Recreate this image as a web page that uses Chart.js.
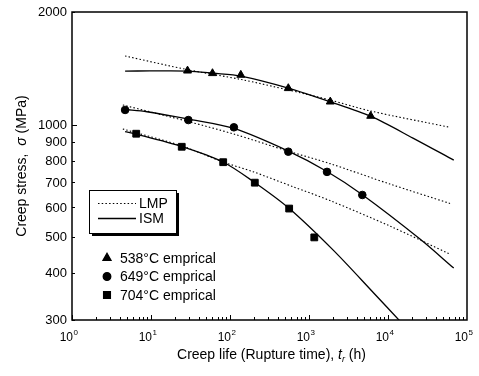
<!DOCTYPE html>
<html><head><meta charset="utf-8">
<script src="https://cdn.jsdelivr.net/npm/chart.js@4.4.1/dist/chart.umd.min.js"></script>
<style>html,body{margin:0;padding:0;background:#fff;}canvas{display:block;}</style>
</head><body>
<canvas id="c" width="479" height="376"></canvas>
<script>
// Empirical data (rupture time h, stress MPa)
const t538 = [29, 60, 137, 547, 1860, 6040];
const s538 = [1393, 1371, 1357, 1250, 1151, 1054];
const t649 = [4.7, 29.7, 112, 547, 1690, 4730];
const s649 = [1094, 1028, 983, 846, 747, 648];
const t704 = [6.5, 24.5, 82, 206, 561, 1167];
const s704 = [945, 872, 793, 699, 596, 499];
// ISM curves
const ism538T = [4.7, 9.7, 29, 61, 138, 547, 1830, 6100, 20700, 68000];
const ism538S = [1390, 1391, 1390, 1372, 1348, 1252, 1152, 1051, 920, 803];
const ism649T = [4.7, 8.9, 29, 112, 547, 1690, 4690, 25400, 68000];
const ism649S = [1097, 1082, 1035, 976, 849, 749, 650, 494, 413];
const ism704T = [4.7, 6.5, 24.7, 81.5, 201, 558, 2012, 6457, 15040, 29400];
const ism704S = [957, 943, 873, 794, 702, 597, 462, 356, 294, 252];
// LMP curves
const lmp538T = [4.7, 30, 140, 550, 1850, 6000, 61000];
const lmp538S = [1525, 1400, 1319, 1237, 1163, 1087, 983];
const lmp649T = [4.4, 31, 112, 542, 1845, 10600, 61000];
const lmp649S = [1128, 1016, 943, 849, 786, 693, 615];
const lmp704T = [4.4, 24.7, 81.5, 195, 627, 1845, 10600, 61000];
const lmp704S = [973, 876, 794, 748, 682, 626, 535, 450];
// Tick labels
const xTickVals = [1, 10, 100, 1000, 10000, 100000];
const xTickExps = ['0', '1', '2', '3', '4', '5'];
const yTickVals = [300, 400, 500, 600, 700, 800, 900, 1000, 2000];
const yTickLabels = ['300', '400', '500', '600', '700', '800', '900', '1000', '2000'];
const seriesNames = ['538°C emprical', '649°C emprical', '704°C emprical'];
const lineNames = ['LMP', 'ISM'];

const pts = (T, S) => T.map((t, i) => ({x: t, y: S[i]}));
const FONT = '"Liberation Sans", Arial, sans-serif';

function curve(T, S, dotted) {
  return {data: pts(T, S), borderColor: '#000', borderWidth: dotted ? 1.1 : 1.3,
    borderDash: dotted ? [1.5, 2.2] : [], pointRadius: 0, showLine: true, fill: false,
    tension: 0.3};
}
function marks(T, S, style, r) {
  return {data: pts(T, S), showLine: false, pointStyle: style, pointRadius: r,
    backgroundColor: '#000', borderColor: '#000', borderWidth: 1};
}

const deco = {
  id: 'deco',
  afterDraw(chart) {
    const ctx = chart.ctx, a = chart.chartArea, xs = chart.scales.x, ys = chart.scales.y;
    ctx.save();
    ctx.strokeStyle = '#000'; ctx.fillStyle = '#000';
    // frame
    ctx.lineWidth = 1.5;
    ctx.strokeRect(a.left, a.top, a.right - a.left, a.bottom - a.top);
    // x ticks (inward)
    ctx.lineWidth = 1;
    for (let e = 0; e < 5; e++) {
      for (let m = 1; m <= 9; m++) {
        const v = m * Math.pow(10, e);
        const px = Math.round(xs.getPixelForValue(v)) + 0.5;
        const len = m === 1 ? 5 : 3;
        ctx.beginPath(); ctx.moveTo(px, a.bottom); ctx.lineTo(px, a.bottom - len); ctx.stroke();
      }
    }
    // y ticks (inward)
    yTickVals.forEach(v => {
      const py = Math.round(ys.getPixelForValue(v)) + 0.5;
      const len = (v === 1000) ? 5 : 3;
      ctx.beginPath(); ctx.moveTo(a.left, py); ctx.lineTo(a.left + len, py); ctx.stroke();
    });
    // y tick labels
    ctx.font = '13px ' + FONT; ctx.textAlign = 'right'; ctx.textBaseline = 'middle';
    yTickVals.forEach((v, i) => {
      ctx.fillText(yTickLabels[i], a.left - 5, ys.getPixelForValue(v) + 0.5);
    });
    // x tick labels with superscripts
    xTickVals.forEach((v, i) => {
      const px = xs.getPixelForValue(v);
      ctx.font = '12px ' + FONT; ctx.textAlign = 'right'; ctx.textBaseline = 'alphabetic';
      ctx.fillText('10', px + 1, a.bottom + 21);
      ctx.font = '8px ' + FONT; ctx.textAlign = 'left';
      ctx.fillText(xTickExps[i], px + 1.5, a.bottom + 15);
    });
    // x title
    const parts = [['Creep life (', 'normal'], ['Rupture', 'normal'], [' time), ', 'normal'], ['t', 'italic']];
    const after = ' (h)';
    let tw = 0;
    parts.forEach(p => { ctx.font = p[1] + ' 14px ' + FONT; tw += ctx.measureText(p[0]).width; });
    ctx.font = '9px ' + FONT; const rw = ctx.measureText('r').width;
    ctx.font = '14px ' + FONT; tw += rw + ctx.measureText(after).width;
    let x0 = (a.left + a.right) / 2 - tw / 2 + 2; const yb = 359;
    ctx.textAlign = 'left'; ctx.textBaseline = 'alphabetic';
    parts.forEach(p => { ctx.font = p[1] + ' 14px ' + FONT; ctx.fillText(p[0], x0, yb); x0 += ctx.measureText(p[0]).width; });
    ctx.font = 'italic 9px ' + FONT; ctx.fillText('r', x0, yb + 3); x0 += rw;
    ctx.font = '14px ' + FONT; ctx.fillText(after, x0, yb);
    // y title
    ctx.save();
    ctx.translate(26, (a.top + a.bottom) / 2);
    ctx.rotate(-Math.PI / 2);
    const yparts = [['Creep stress,  ', 'normal'], ['σ', 'italic'], [' (MPa)', 'normal']];
    let yw = 0;
    yparts.forEach(p => { ctx.font = p[1] + ' 14px ' + FONT; yw += ctx.measureText(p[0]).width; });
    let y0 = -yw / 2;
    yparts.forEach(p => { ctx.font = p[1] + ' 14px ' + FONT; ctx.fillText(p[0], y0, 0); y0 += ctx.measureText(p[0]).width; });
    ctx.restore();
    // legend box with shadow
    const bx = 89, by = 190, bw = 87, bh = 43;
    ctx.fillRect(bx + 3, by + 3, bw, bh);
    ctx.fillStyle = '#fff'; ctx.fillRect(bx, by, bw, bh);
    ctx.fillStyle = '#000'; ctx.lineWidth = 1;
    ctx.strokeRect(bx + 0.5, by + 0.5, bw, bh);
    const lds = [chart.data.datasets[3], chart.data.datasets[0]];
    [203, 218].forEach((ly, i) => {
      const ds = lds[i];
      ctx.lineWidth = ds.borderWidth; ctx.setLineDash(ds.borderDash);
      ctx.beginPath(); ctx.moveTo(98, ly + 0.5); ctx.lineTo(136, ly + 0.5); ctx.stroke();
      ctx.setLineDash([]);
      ctx.font = '14px ' + FONT; ctx.textAlign = 'left'; ctx.textBaseline = 'middle';
      ctx.fillText(lineNames[i], 139, ly + 1);
    });
    // marker legend
    const mds = [chart.data.datasets[6], chart.data.datasets[7], chart.data.datasets[8]];
    [258, 276.5, 295].forEach((ly, i) => {
      const ds = mds[i];
      Chart.helpers.drawPoint(ctx, {pointStyle: ds.pointStyle, radius: ds.pointRadius, borderWidth: 1, rotation: 0}, 107, ly);
      ctx.fill();
      ctx.font = '14px ' + FONT; ctx.textAlign = 'left'; ctx.textBaseline = 'middle';
      ctx.fillText(seriesNames[i], 120, ly + 1);
    });
    ctx.restore();
  }
};

new Chart(document.getElementById('c'), {
  type: 'scatter',
  data: {datasets: [
    curve(ism538T, ism538S, false), curve(ism649T, ism649S, false), curve(ism704T, ism704S, false),
    curve(lmp538T, lmp538S, true), curve(lmp649T, lmp649S, true), curve(lmp704T, lmp704S, true),
    marks(t538, s538, 'triangle', 4.6), marks(t649, s649, 'circle', 3.8), marks(t704, s704, 'rect', 4.8)
  ]},
  options: {
    responsive: false, animation: false, devicePixelRatio: 1,
    layout: {padding: {top: 12, right: 12, left: 0, bottom: 0}},
    plugins: {legend: {display: false}, tooltip: {enabled: false}},
    scales: {
      x: {type: 'logarithmic', min: 1, max: 100000,
        ticks: {display: false}, grid: {display: false}, border: {display: false},
        afterFit: s => { s.height = 56; }},
      y: {type: 'logarithmic', min: 300, max: 2000,
        ticks: {display: false}, grid: {display: false}, border: {display: false},
        afterFit: s => { s.width = 72; }}
    }
  },
  plugins: [deco]
});
</script>
</body></html>
